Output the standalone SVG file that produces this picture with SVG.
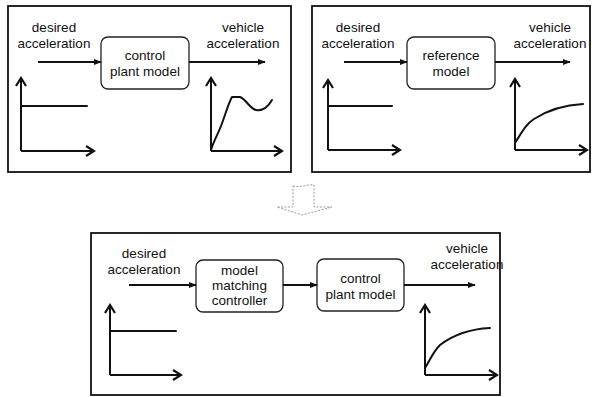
<svg xmlns="http://www.w3.org/2000/svg" width="595" height="397" viewBox="0 0 595 397">
  <defs>
    <style>
      .panel { fill: #fff; stroke: #111; stroke-width: 1.8; }
      .block { fill: #fff; stroke: #222; stroke-width: 1.3; }
      .lbl { font-family: "Liberation Sans", Arial, sans-serif; font-size: 13.5px; fill: #111; text-anchor: middle; }
      .sig { fill: none; stroke: #111; stroke-width: 2; marker-end: url(#tip); }
      .axis { fill: none; stroke: #111; stroke-width: 2; marker-end: url(#chev); }
      .trace { fill: none; stroke: #111; stroke-width: 2; stroke-linejoin: round; stroke-linecap: round; }
    </style>
    <marker id="tip" viewBox="0 0 10 10" refX="9" refY="5" markerWidth="4" markerHeight="4" orient="auto" markerUnits="strokeWidth">
      <path d="M0,1 L10,5 L0,9 Z" fill="#111"/>
    </marker>
    <marker id="chev" viewBox="0 0 12 12" refX="10" refY="6" markerWidth="6" markerHeight="6" orient="auto" markerUnits="strokeWidth">
      <path d="M2,1 L10,6 L2,11" fill="none" stroke="#111" stroke-width="2.2"/>
    </marker>
  </defs>

  <!-- top-left panel: plant alone -->
  <g id="panel-plant">
    <rect class="panel" x="8" y="6" width="283" height="166"/>
    <text class="lbl" x="54" y="32">desired</text>
    <text class="lbl" x="54" y="48">acceleration</text>
    <text class="lbl" x="243" y="32">vehicle</text>
    <text class="lbl" x="243" y="48">acceleration</text>
    <g id="plant-1">
      <rect class="block" x="101" y="37" width="88" height="52" rx="7"/>
      <text class="lbl" x="145" y="60">control</text>
      <text class="lbl" x="145" y="76">plant model</text>
    </g>
    <path class="axis" d="M21,151 V78"/>
    <path class="axis" d="M21,151 H94"/>
    <path class="trace" d="M21,106 H87"/>
    <path class="axis" d="M211,151 V78"/>
    <path class="axis" d="M211,151 H282"/>
    <path class="trace" d="M211,150 C214,140 218,134 221,126 C225,116 228,104 232,97 L240,97 C246,99 250,109 256,110 C262,111 268,107 272,100"/>
  </g>

  <!-- top-right panel: reference model -->
  <g id="panel-reference">
    <rect class="panel" x="312" y="6" width="278" height="166"/>
    <text class="lbl" x="358" y="32">desired</text>
    <text class="lbl" x="358" y="48">acceleration</text>
    <text class="lbl" x="550" y="32">vehicle</text>
    <text class="lbl" x="550" y="48">acceleration</text>
    <g id="reference-model">
      <rect class="block" x="407" y="37" width="88" height="52" rx="7"/>
      <text class="lbl" x="451" y="60">reference</text>
      <text class="lbl" x="451" y="76">model</text>
    </g>
    <path class="axis" d="M328,150 V80"/>
    <path class="axis" d="M328,150 H400"/>
    <path class="trace" d="M328,106 H392"/>
    <path class="axis" d="M515,150 V79"/>
    <path class="axis" d="M515,150 H587"/>
    <path class="trace" d="M515,143 C522,132 526,124 534,119 C548,110 564,105 583,104"/>
  </g>

  <!-- hollow down arrow between rows -->
  <g id="transition">
    <path d="M293,186 C300,188 307,184 314,185 V207 H332 L302,215 L277,207 H293 Z" fill="none" stroke="#999" stroke-width="1" stroke-dasharray="2,1.5"/>
  </g>

  <!-- bottom panel: model matching loop -->
  <g id="panel-matching">
    <rect class="panel" x="91" y="233" width="409" height="162"/>
    <text class="lbl" x="144" y="258">desired</text>
    <text class="lbl" x="144" y="274">acceleration</text>
    <text class="lbl" x="467" y="253">vehicle</text>
    <text class="lbl" x="467" y="269">acceleration</text>
    <g id="controller">
      <rect class="block" x="196" y="260" width="87" height="52" rx="7"/>
      <text class="lbl" x="239.5" y="275">model</text>
      <text class="lbl" x="239.5" y="290">matching</text>
      <text class="lbl" x="239.5" y="305">controller</text>
    </g>
    <g id="plant-2">
      <rect class="block" x="317" y="259" width="87" height="52" rx="7"/>
      <text class="lbl" x="360.5" y="283">control</text>
      <text class="lbl" x="360.5" y="299">plant model</text>
    </g>
    <path class="axis" d="M110,375 V305"/>
    <path class="axis" d="M110,375 H181"/>
    <path class="trace" d="M110,331 H176"/>
    <path class="axis" d="M425,375 V305"/>
    <path class="axis" d="M425,375 H497"/>
    <path class="trace" d="M425,368 C430,360 433,352 440,345 C453,335 470,329 490,328"/>
  </g>

  <!-- signal connectors -->
  <g id="connectors">
    <path class="sig" d="M38,62 H101"/>
    <path class="sig" d="M189,62 H265"/>
    <path class="sig" d="M344,62 H407"/>
    <path class="sig" d="M495,62 H570"/>
    <path class="sig" d="M129,285 H196"/>
    <path class="sig" d="M283,285 H317"/>
    <path class="sig" d="M404,285 H475"/>
  </g>
</svg>
